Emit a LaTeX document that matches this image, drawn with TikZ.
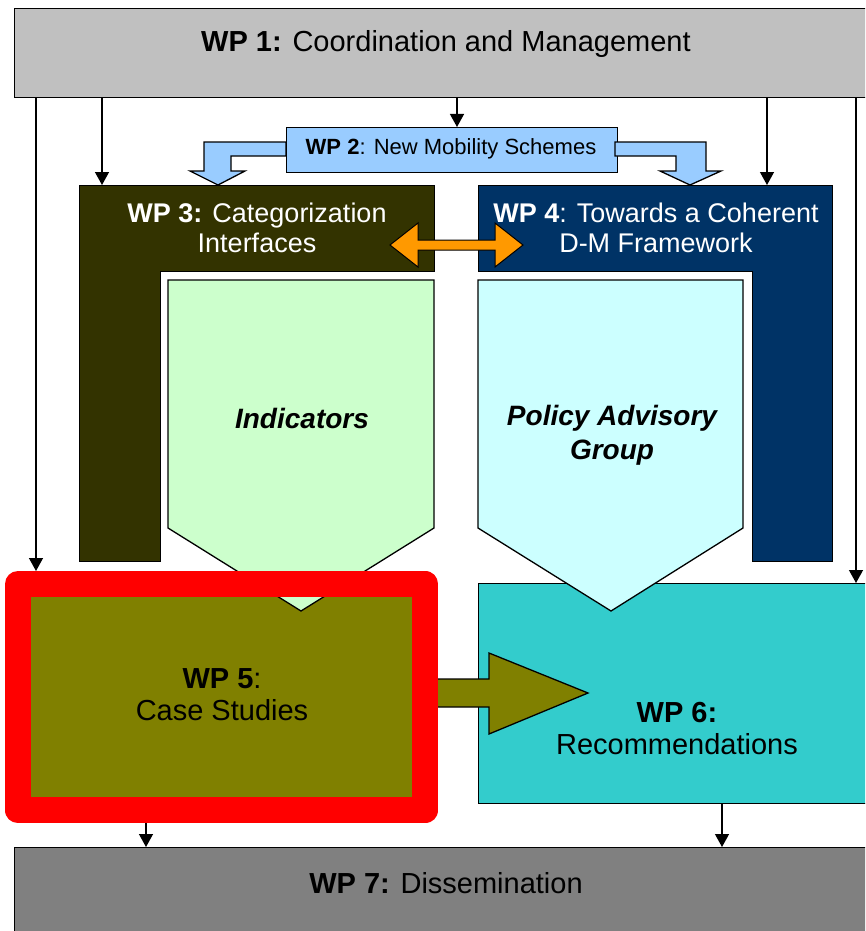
\documentclass[tikz,border=0pt]{standalone}
\usepackage{fontspec}
\setmainfont{Liberation Sans}
\usetikzlibrary{arrows.meta}

\definecolor{wplight}{HTML}{C0C0C0}
\definecolor{wpdark}{HTML}{808080}
\definecolor{wpblue}{HTML}{99CCFF}
\definecolor{wpolive}{HTML}{333300}
\definecolor{wpnavy}{HTML}{003366}
\definecolor{wporange}{HTML}{FF9900}
\definecolor{wpgreen}{HTML}{CCFFCC}
\definecolor{wpcyan}{HTML}{CCFFFF}
\definecolor{wpcase}{HTML}{808000}
\definecolor{wpteal}{HTML}{33CCCC}

\newcommand\wpbig{\fontsize{29}{32}\selectfont}
\newcommand\wpmid{\fontsize{27}{30}\selectfont}
\newcommand\wpsmall{\fontsize{22}{26}\selectfont}
\newcommand\wpital{\fontsize{28}{34}\selectfont\bfseries\itshape}

\begin{document}
\begin{tikzpicture}[x=1pt,y=-1pt,
  box/.style={draw,line width=1.3pt,inner sep=0pt,anchor=north west},
  block/.style={draw,line width=1.3pt,line join=miter},
  arr/.style={line width=1.3pt,-{Triangle[length=13pt,width=14pt]}}]
  \clip (0,0) rectangle (865,931);

  % coordination on top
  \node[box,fill=wplight,minimum width=880pt,minimum height=89pt] (wp1) at (14,8) {};
  \path (446,44) node[font=\wpbig] (t1) {\textbf{WP 1:} Coordination and Management};

  % the two framework blocks
  \draw[block,line width=1pt,fill=wpolive] (79,185) -- (434,185) -- (434,271) -- (160,271)
    -- (160,561) -- (79,561) -- cycle;
  \draw[block,line width=1pt,fill=wpnavy] (478,185) -- (832,185) -- (832,561) -- (752,561)
    -- (752,271) -- (478,271) -- cycle;
  \path (257,228) node[font=\wpmid,text=white,align=center] (t3)
    {\textbf{WP 3:} Categorization\\Interfaces};
  \path (656,228) node[font=\wpmid,text=white,align=center] (t4)
    {\textbf{WP 4}: Towards a Coherent\\D-M Framework};
  \coordinate (wp3top) at (102,185);
  \coordinate (wp4top) at (767,185);

  % new mobility schemes
  \draw[block,fill=wpblue] (286,142) -- (204,142) -- (204,171) -- (190,171) -- (218,185)
    -- (245,171) -- (231,171) -- (231,156) -- (286,156) -- cycle;
  \node[box,fill=wpblue,minimum width=331pt,minimum height=45pt] (wp2) at (286,127) {};
  \path (451,149) node[font=\wpsmall] (t2) {\textbf{WP 2}: New Mobility Schemes};
  \draw[block,fill=wpblue] (615,142) -- (706,142) -- (706,171) -- (721,171) -- (690,185)
    -- (660,171) -- (676,171) -- (676,156) -- (615,156) -- cycle;

  % link between WP 3 and WP 4
  \draw[block,line width=1pt,fill=wporange] (390,245) -- (418,223) -- (418,240) -- (495,240)
    -- (495,223) -- (523,245) -- (495,267) -- (495,250) -- (418,250) -- (418,267) -- cycle;

  % recommendations and advisory group
  \node[box,fill=wpteal,minimum width=420pt,minimum height=220pt] (wp6) at (478,583) {};
  \draw[block,fill=wpcyan] (478,280) -- (743,280) -- (743,528) -- (611,611) -- (478,528) -- cycle;
  \path (612,435) node[font=\wpital,align=center] (pag) {Policy Advisory\\Group};

  % case studies and indicators
  \node[inner sep=0pt,anchor=north west,fill=wpcase,minimum width=407pt,minimum height=226pt] (wp5) at (18,584) {};
  \draw[block,fill=wpgreen] (168,280) -- (434,280) -- (434,528) -- (301,611) -- (168,528) -- cycle;
  \path (302,418) node[font=\wpital] (ind) {Indicators};
  \draw[block,fill=wpcase] (425,679) -- (489,679) -- (489,653) -- (588,693) -- (489,734)
    -- (489,707) -- (425,707) -- cycle;
  \draw[red,line width=26pt,line join=round] (wp5.north west) rectangle (wp5.south east);
  \path (222,695) node[font=\wpbig,align=center] (t5) {\textbf{WP 5}:\\Case Studies};
  \path (677,729) node[font=\wpbig,align=center] (t6) {\textbf{WP 6:}\\Recommendations};

  % dissemination
  \node[box,fill=wpdark,minimum width=880pt,minimum height=100pt] (wp7) at (14,847) {};
  \path (446,883) node[font=\wpbig] (t7) {\textbf{WP 7:} Dissemination};

  % arrows from WP 1
  \coordinate (a5) at (36,571);
  \coordinate (a6) at (856,583);
  \coordinate (a2) at (457,127);
  \draw[arr] (wp1.south -| a5) -- (a5);
  \draw[arr] (wp1.south -| wp3top) -- (wp3top);
  \draw[arr] (wp1.south -| a2) -- (a2);
  \draw[arr] (wp1.south -| wp4top) -- (wp4top);
  \draw[arr] (wp1.south -| a6) -- (a6);

  % arrows into WP 7
  \coordinate (b5) at (146,823);
  \coordinate (b6) at (722,803);
  \draw[arr] (b5) -- (b5 |- wp7.north);
  \draw[arr] (b6) -- (b6 |- wp7.north);
\end{tikzpicture}
\end{document}
